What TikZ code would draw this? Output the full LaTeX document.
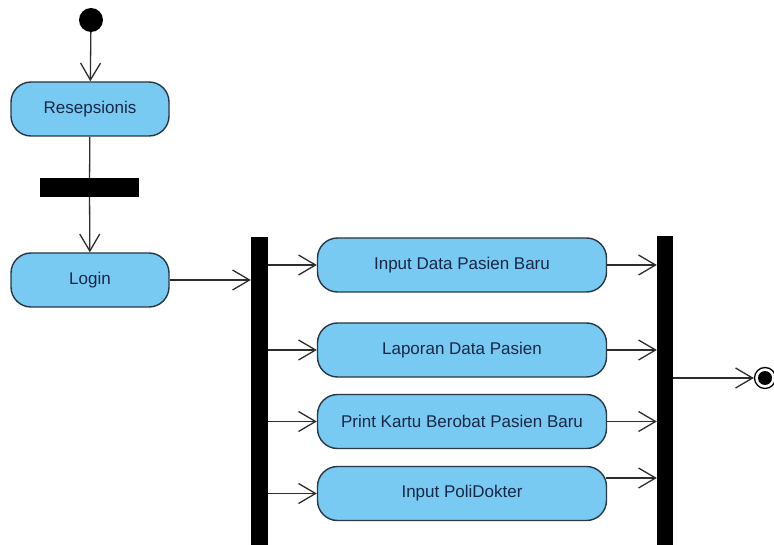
\documentclass[tikz,border=0pt]{standalone}
\usepackage{fontspec}
\setmainfont{Liberation Sans}
\usetikzlibrary{arrows.meta}
\definecolor{actfill}{RGB}{120,202,242}
\definecolor{actline}{RGB}{40,55,70}
\definecolor{acttext}{RGB}{25,40,70}
\definecolor{flow}{RGB}{45,45,45}
\tikzset{
  act/.style={draw=actline, line width=1.4pt, fill=actfill, rounded corners=20pt,
    minimum height=54pt, text=acttext, font=\fontsize{17pt}{19pt}\selectfont, inner sep=0pt},
  bar/.style={fill=black, draw=none, inner sep=0pt},
  flowline/.style={draw=flow, line width=1.3pt, -{Straight Barb[length=17pt,width=20pt,line width=1.3pt]}},
  plainline/.style={draw=flow, line width=1.3pt}
}
\begin{document}
\begin{tikzpicture}[x=1pt,y=-1pt]
\useasboundingbox (0,0) rectangle (774,545);
% start
\node[circle, fill=black, minimum size=24pt, inner sep=0pt] (start) at (91,20) {};
% activities
\node[act, minimum width=158pt] (resep) at (90,109) {Resepsionis};
\node[bar, minimum width=99pt, minimum height=19pt] (sync) at (89.5,187.5) {};
\node[act, minimum width=158pt] (login) at (90,280) {Login};
\node[bar, minimum width=17pt, minimum height=310pt] (fork) at (259.5,392) {};
\node[act, minimum width=289pt] (a1) at (462,265) {Input Data Pasien Baru};
\node[act, minimum width=289pt] (a2) at (462,350) {Laporan Data Pasien};
\node[act, minimum width=289pt] (a3) at (462,421.5) {Print Kartu Berobat Pasien Baru};
\node[act, minimum width=289pt] (a4) at (462,493.5) {Input PoliDokter};
\node[bar, minimum width=16pt, minimum height=311pt] (join) at (665,391.5) {};
% final
\node[circle, draw=black, line width=1.3pt, minimum size=21pt, inner sep=0pt] (final) at (765,378) {};
\fill[black] (final.center) circle (7pt);
\coordinate (a4out) at (606,478);
% flows
\draw[flowline] (start) -- (resep);
\draw[plainline] (resep) -- (sync);
\draw[flowline] (sync) -- (login);
\draw[flowline] (login) -- (login -| fork.west);
\draw[flowline] (fork.east |- a1) -- (a1);
\draw[flowline] (fork.east |- a2) -- (a2);
\draw[flowline] (fork.east |- a3) -- (a3);
\draw[flowline] (fork.east |- a4) -- (a4);
\draw[flowline] (a1) -- (a1 -| join.west);
\draw[flowline] (a2) -- (a2 -| join.west);
\draw[flowline] (a3) -- (a3 -| join.west);
\draw[flowline] (a4out) -- (a4out -| join.west);
\draw[flowline] (join.east |- final) -- (final.west);
\end{tikzpicture}
\end{document}
